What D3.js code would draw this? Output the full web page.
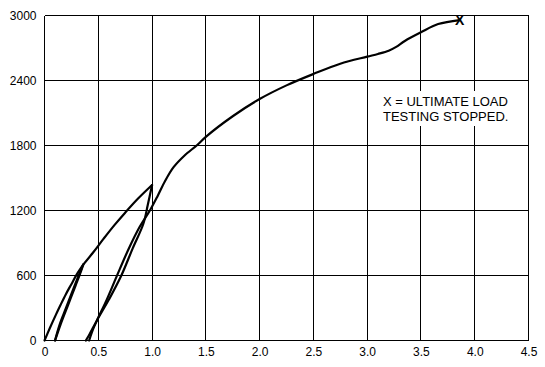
<!DOCTYPE html>
<html>
<head>
<meta charset="utf-8">
<script src="https://cdn.jsdelivr.net/npm/d3@7"></script>
<style>
  body { margin: 0; background: #fff; }
  text { font-family: "Liberation Sans", Arial, sans-serif; fill: #000; }
</style>
</head>
<body>
<svg id="chartSVG" width="545" height="367"></svg>
<script>
// tick values and labels
const xTicks = [0, 0.5, 1.0, 1.5, 2.0, 2.5, 3.0, 3.5, 4.0, 4.5];
const xTickLabels = ['0', '0.5', '1.0', '1.5', '2.0', '2.5', '3.0', '3.5', '4.0', '4.5'];
const yTicks = [0, 600, 1200, 1800, 2400, 3000];
const yTickLabels = ['0', '600', '1200', '1800', '2400', '3000'];

// first loading
const load1Settle = [0, 0.05, 0.10, 0.15, 0.20, 0.25, 0.30, 0.36];
const load1Load = [0, 115, 225, 330, 430, 520, 610, 700];
// first unloading
const unload1Settle = [0.36, 0.33, 0.27, 0.20, 0.14, 0.098];
const unload1Load = [700, 630, 480, 300, 145, 0];
// first reloading
const reload1Settle = [0.098, 0.15, 0.22, 0.29, 0.34, 0.36];
const reload1Load = [0, 150, 330, 510, 640, 700];
// second loading
const load2Settle = [0.36, 0.45, 0.55, 0.65, 0.75, 0.87, 1.00];
const load2Load = [700, 810, 940, 1065, 1180, 1310, 1435];
// second unloading
const unload2Settle = [1.00, 0.96, 0.92, 0.82, 0.71, 0.60, 0.49, 0.42, 0.385];
const unload2Load = [1435, 1250, 1080, 850, 590, 380, 190, 60, 0];
// reloading up to ultimate load
const reload2Settle = [0.415, 0.45, 0.49, 0.58, 0.67, 0.78, 0.88, 0.98, 1.05, 1.12, 1.20, 1.30, 1.42, 1.50,
  1.75, 2.00, 2.25, 2.50, 2.75, 3.00, 3.10, 3.20, 3.27, 3.35, 3.50, 3.66, 3.86];
const reload2Load = [0, 100, 190, 380, 590, 840, 1040, 1200, 1330, 1470, 1600, 1706, 1805, 1880,
  2070, 2229, 2355, 2460, 2555, 2620, 2645, 2675, 2710, 2765, 2845, 2921, 2958];

const segments = [
  [load1Settle, load1Load],
  [unload1Settle, unload1Load],
  [reload1Settle, reload1Load],
  [load2Settle, load2Load],
  [unload2Settle, unload2Load],
  [reload2Settle, reload2Load]
];

const noteLines = ['X = ULTIMATE LOAD', 'TESTING STOPPED.'];

let svg = d3.select('svg#chartSVG');

let plotLeft = 44.5, plotRight = 528.5, plotTop = 15.5, plotBottom = 340.5;

let xScale = d3.scaleLinear().domain([0, 4.5]).range([plotLeft, plotRight]);
let yScale = d3.scaleLinear().domain([0, 3000]).range([plotBottom, plotTop]);

// grid
let grid = svg.append('g').attr('shape-rendering', 'crispEdges');
grid.selectAll('line.v')
  .data(xTicks)
  .enter().append('line')
  .attr('class', 'v')
  .attr('x1', d => xScale(d)).attr('x2', d => xScale(d))
  .attr('y1', plotTop).attr('y2', plotBottom)
  .attr('stroke', '#000').attr('stroke-width', 1);
grid.selectAll('line.h')
  .data(yTicks)
  .enter().append('line')
  .attr('class', 'h')
  .attr('x1', plotLeft).attr('x2', plotRight)
  .attr('y1', d => yScale(d)).attr('y2', d => yScale(d))
  .attr('stroke', '#000').attr('stroke-width', 1);

// axes (labels only)
let xAxis = d3.axisBottom(xScale)
  .tickValues(xTicks)
  .tickFormat((d, i) => xTickLabels[i])
  .tickSize(0)
  .tickPadding(7);
let gX = svg.append('g').attr('transform', `translate(0, ${plotBottom})`).call(xAxis);
gX.select('.domain').remove();
gX.selectAll('text').style('font-size', '12px').style('font-family', '"Liberation Sans", Arial, sans-serif');

let yAxis = d3.axisLeft(yScale)
  .tickValues(yTicks)
  .tickFormat((d, i) => yTickLabels[i])
  .tickSize(0)
  .tickPadding(8);
let gY = svg.append('g').attr('transform', `translate(${plotLeft}, 0)`).call(yAxis);
gY.select('.domain').remove();
gY.selectAll('text').style('font-size', '12px').style('font-family', '"Liberation Sans", Arial, sans-serif');

// curve
let lineGenerator = d3.line()
  .x(d => xScale(d[0]))
  .y(d => yScale(d[1]))
  .curve(d3.curveCatmullRom.alpha(0.5));

svg.selectAll('path.curve')
  .data(segments.map(s => s[0].map((v, i) => [v, s[1][i]])))
  .enter().append('path')
  .attr('class', 'curve')
  .attr('d', lineGenerator)
  .attr('fill', 'none')
  .attr('stroke', '#000')
  .attr('stroke-width', 2.2)
  .attr('stroke-linejoin', 'round')
  .attr('stroke-linecap', 'round');

// ultimate load marker
let lastX = reload2Settle[reload2Settle.length - 1];
let lastY = reload2Load[reload2Load.length - 1];
svg.append('text')
  .attr('x', xScale(lastX))
  .attr('y', yScale(lastY) + 5)
  .attr('text-anchor', 'middle')
  .style('font-size', '14px')
  .style('font-weight', 'bold')
  .text('X');

// note
svg.append('rect')
  .attr('x', 380).attr('y', 91)
  .attr('width', 132).attr('height', 35)
  .attr('fill', '#fff');
svg.selectAll('text.note')
  .data(noteLines)
  .enter().append('text')
  .attr('class', 'note')
  .attr('x', 383)
  .attr('y', (d, i) => 106 + i * 15)
  .style('font-size', '13px')
  .text(d => d);
</script>
</body>
</html>
